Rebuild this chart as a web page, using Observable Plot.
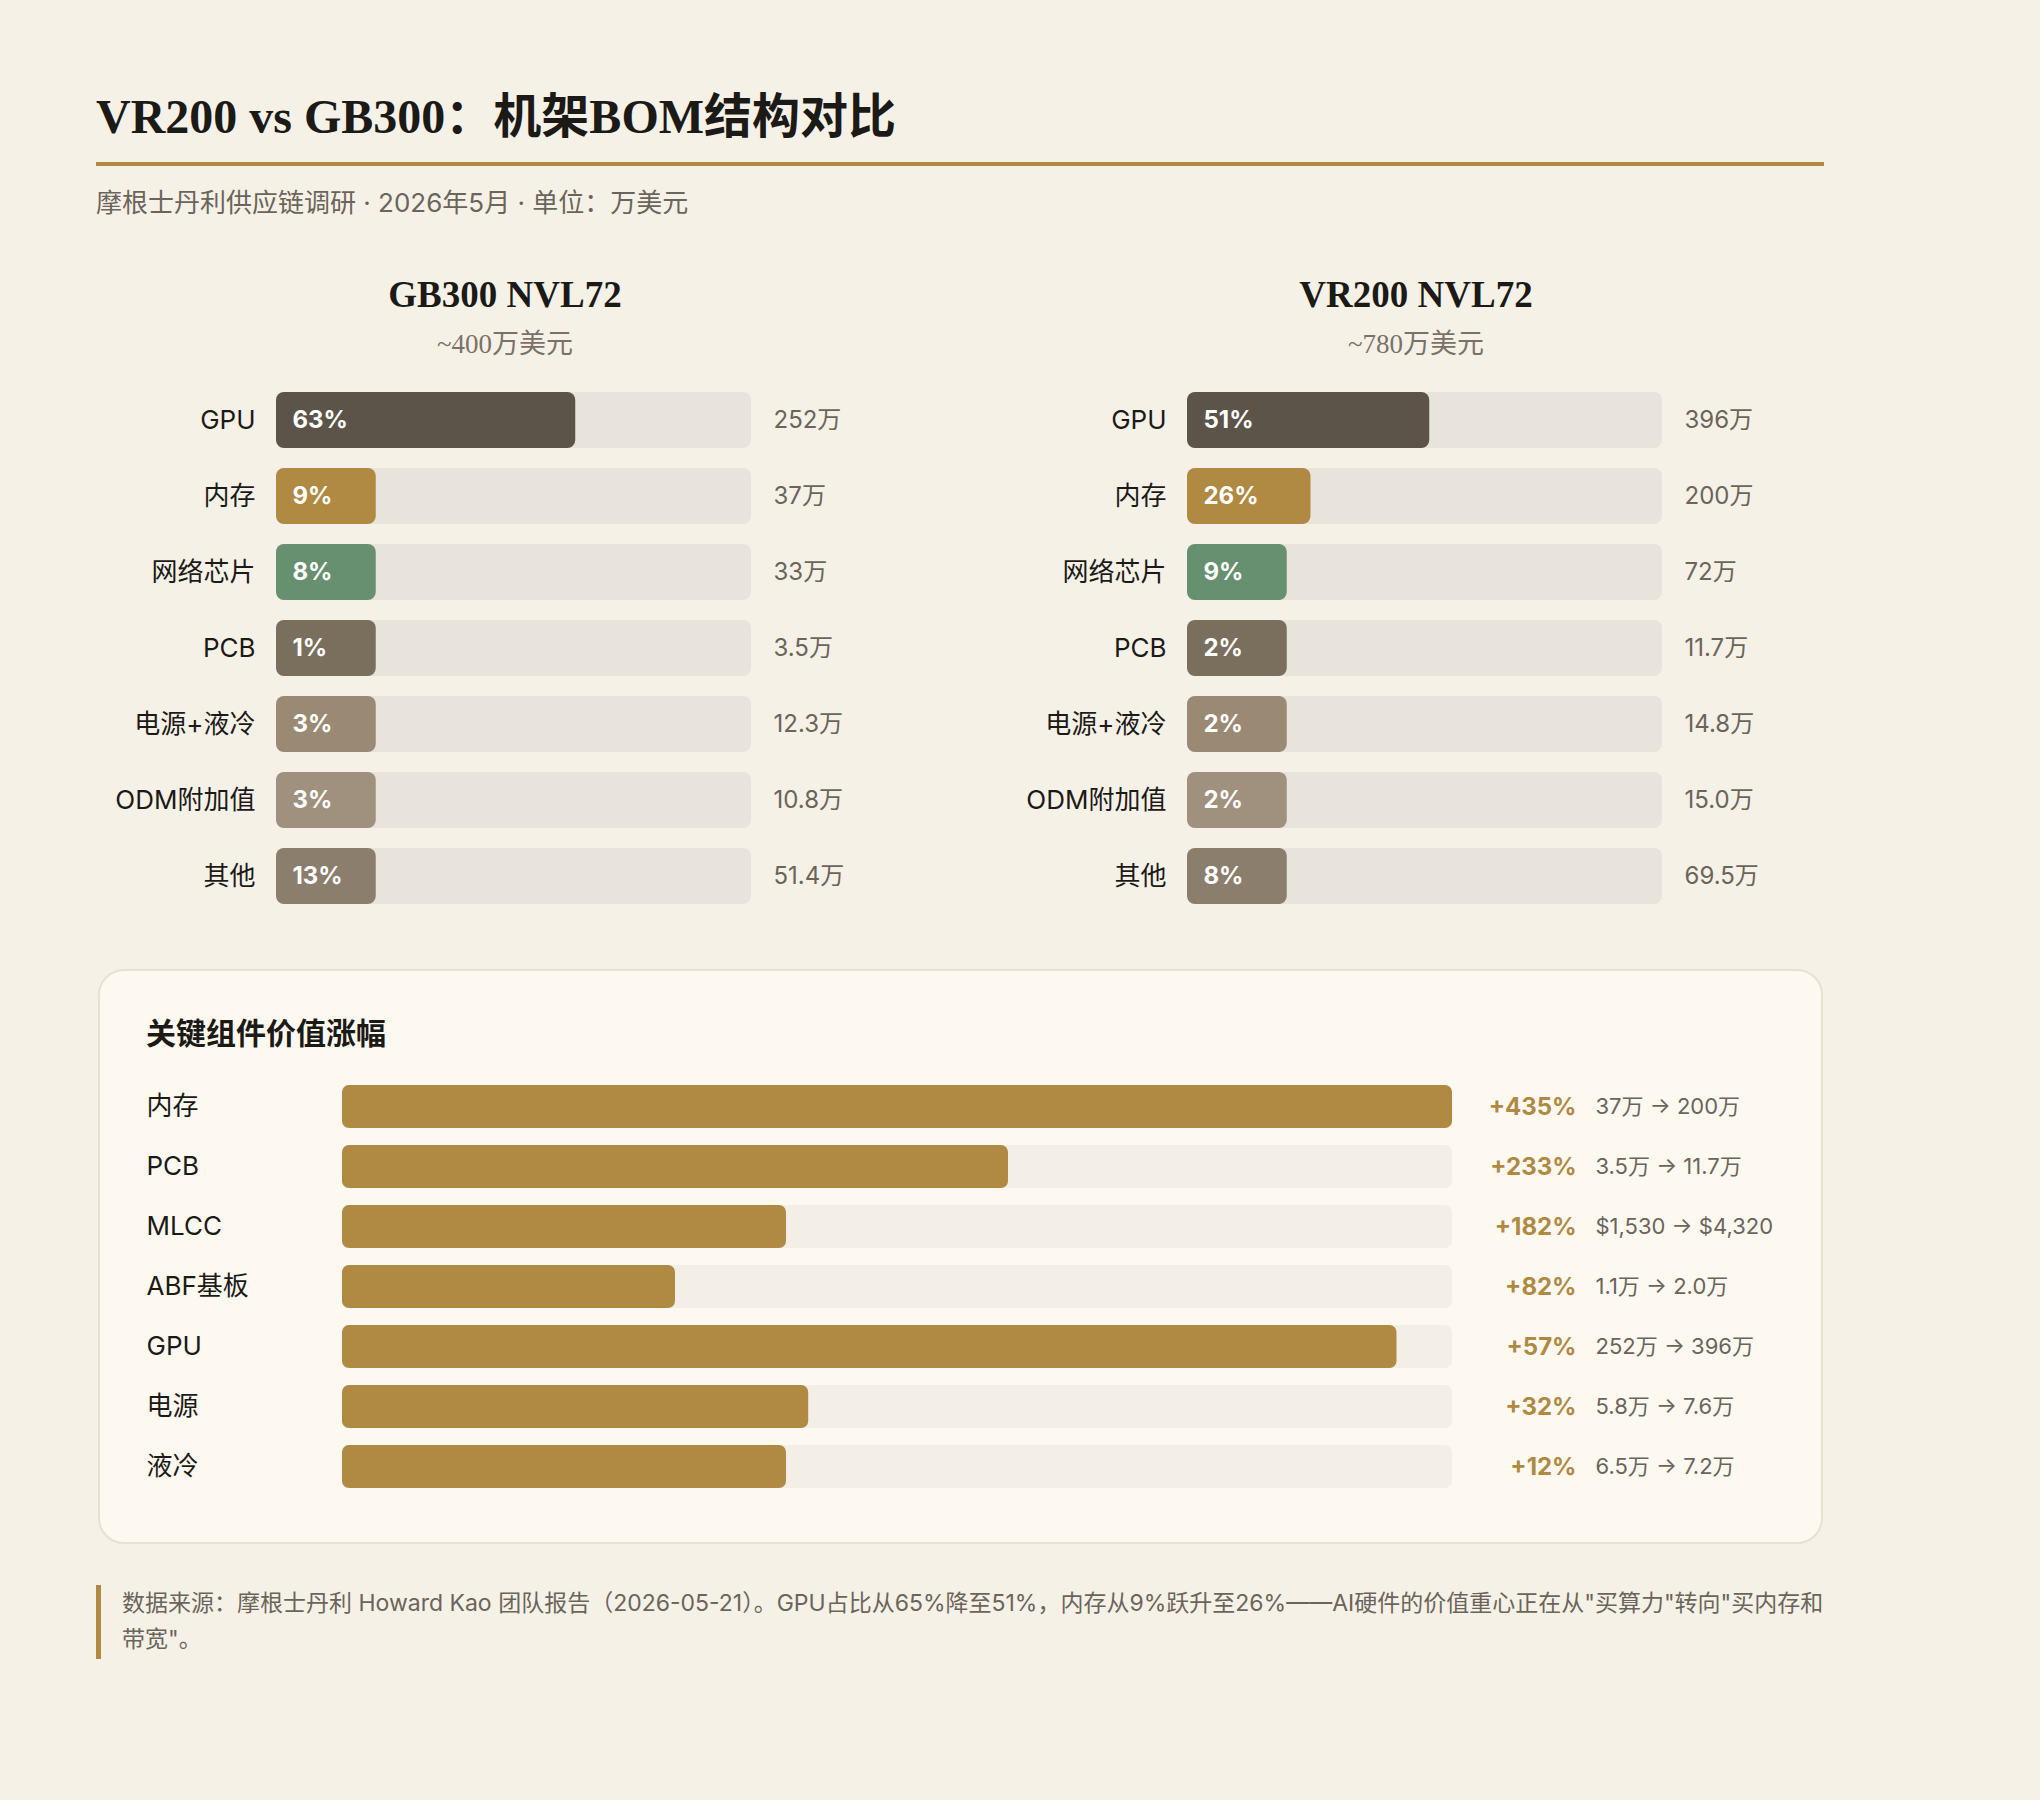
<!DOCTYPE html>
<html>
<head>
<meta charset="utf-8">
<script src="https://cdn.jsdelivr.net/npm/d3@7"></script>
<script src="https://cdn.jsdelivr.net/npm/@observablehq/plot@0.6"></script>
<style>
  html, body { margin: 0; padding: 0; }
  body {
    background: #f6f1e7;
    width: 2040px; height: 1800px; position: relative; overflow: hidden;
    font-family: Inter, "Noto Sans CJK SC", sans-serif;
    color: #1c1a17;
  }
  .abs { position: absolute; white-space: nowrap; }
  #title { left: 96px; top: 77px; height: 60px; line-height: 60px;
    font: 700 48px "Liberation Serif", "Noto Sans CJK SC", serif; color: #1c1a17; }
  #rule { left: 96px; top: 162px; width: 1728px; height: 4px; background: #b08943; }
  #subtitle { left: 96px; top: 185px; height: 36px; line-height: 36px; font-size: 26px; color: #6b645a; }
  .phead { width: 818px; text-align: center; }
  .pname { height: 44px; line-height: 44px; font: 700 37px "Liberation Serif", "Noto Sans CJK SC", serif; color: #1c1a17; }
  .ptotal { height: 36px; line-height: 36px; font: 400 27px "Liberation Serif", "Noto Sans CJK SC", serif; color: #7a7268; }
  #card { left: 98px; top: 969px; width: 1725px; height: 575px; box-sizing: border-box;
    background: #fdf9f1; border: 2px solid #e7e0d3; border-radius: 26px; }
  #cardTitle { left: 146px; top: 1009px; height: 40px; line-height: 40px;
    font: 700 30px "Liberation Serif", "Noto Sans CJK SC", serif; color: #1c1a17; }
  #noteBar { left: 96px; top: 1585px; width: 5px; height: 74px; background: #b08943; }
  #note { left: 122px; top: 1585px; font-size: 23px; line-height: 36px; color: #6b645a; }
  .plotbox { position: absolute; }
  .plotbox svg { overflow: visible; }
</style>
</head>
<body>
<div id="title" class="abs"></div>
<div id="rule" class="abs"></div>
<div id="subtitle" class="abs"></div>
<div id="card" class="abs"></div>
<div id="cardTitle" class="abs"></div>
<div id="noteBar" class="abs"></div>
<div id="note" class="abs"></div>

<script>
// ---------- data ----------
const titleText = "VR200 vs GB300：机架BOM结构对比";
const subtitleText = "摩根士丹利供应链调研 · 2026年5月 · 单位：万美元";

const components = ["GPU", "内存", "网络芯片", "PCB", "电源+液冷", "ODM附加值", "其他"];
const componentColors = ["#5c5448", "#b08943", "#679070", "#7a6e5c", "#9a8a74", "#a0907e", "#8b7e6d"];

const rackNames = ["GB300 NVL72", "VR200 NVL72"];
const rackTotals = ["~400万美元", "~780万美元"];

const gb300Share = [63, 9, 8, 1, 3, 3, 13];
const gb300Value = ["252万", "37万", "33万", "3.5万", "12.3万", "10.8万", "51.4万"];
const vr200Share = [51, 26, 9, 2, 2, 2, 8];
const vr200Value = ["396万", "200万", "72万", "11.7万", "14.8万", "15.0万", "69.5万"];

const growthTitle = "关键组件价值涨幅";
const growthItems = ["内存", "PCB", "MLCC", "ABF基板", "GPU", "电源", "液冷"];
const growthPct = [435, 233, 182, 82, 57, 32, 12];
const growthBar = [100, 60, 40, 30, 95, 42, 40]; // drawn bar length, % of track
const growthFrom = ["37万", "3.5万", "$1,530", "1.1万", "252万", "5.8万", "6.5万"];
const growthTo = ["200万", "11.7万", "$4,320", "2.0万", "396万", "7.6万", "7.2万"];

const noteLine1 = "数据来源：摩根士丹利 Howard Kao 团队报告（2026-05-21）。GPU占比从65%降至51%，内存从9%跃升至26%——AI硬件的价值重心正在从\"买算力\"转向\"买内存和";
const noteLine2 = "带宽\"。";

// ---------- text ----------
const FONT = 'Inter, "Noto Sans CJK SC", sans-serif';
document.getElementById("title").textContent = titleText;
document.getElementById("subtitle").textContent = subtitleText;
document.getElementById("cardTitle").textContent = growthTitle;
const note = document.getElementById("note");
note.appendChild(document.createTextNode(noteLine1));
note.appendChild(document.createElement("br"));
note.appendChild(document.createTextNode(noteLine2));

// ---------- panels ----------
const MIN_SHARE = 21; // minimum drawn fill (% of track) so the label fits
const panelLefts = [96, 1007];
const shares = [gb300Share, vr200Share];
const values = [gb300Value, vr200Value];

function panelPlot(share, value) {
  const data = components.map((c, i) => ({c, share: share[i], value: value[i], color: componentColors[i]}));
  return Plot.plot({
    width: 818, height: 552,
    marginLeft: 180, marginRight: 163, marginTop: 0, marginBottom: 0,
    style: {background: "transparent", fontFamily: FONT, fontSize: "26px", overflow: "visible"},
    x: {domain: [0, 100], axis: null},
    y: {domain: components, padding: 0.263, label: null, axis: null},
    color: {type: "identity"},
    marks: [
      Plot.barX(data, {y: "c", x1: () => 0, x2: () => 100, fill: "#e9e4db", rx: 8}),
      Plot.barX(data, {y: "c", x1: () => 0, x2: d => Math.max(d.share, MIN_SHARE), fill: d => d.color, rx: 8}),
      Plot.text(data, {y: "c", x: () => 0, text: d => d.share + "%", dx: 16, textAnchor: "start",
        fill: "#ffffff", fontWeight: 700, fontSize: 24}),
      Plot.text(data, {y: "c", x: () => 100, text: "value", dx: 22, textAnchor: "start",
        fill: "#6b645a", fontSize: 24}),
      Plot.axisY({tickSize: 0, tickPadding: 21, fontSize: 26, color: "#1c1a17", label: null})
    ]
  });
}

rackNames.forEach((name, k) => {
  const h1 = document.createElement("div");
  h1.className = "abs phead pname";
  h1.style.left = panelLefts[k] + "px"; h1.style.top = "273px";
  h1.textContent = name;
  document.body.appendChild(h1);
  const h2 = document.createElement("div");
  h2.className = "abs phead ptotal";
  h2.style.left = panelLefts[k] + "px"; h2.style.top = "322px";
  h2.textContent = rackTotals[k];
  document.body.appendChild(h2);
  const box = document.createElement("div");
  box.className = "plotbox";
  box.style.left = panelLefts[k] + "px"; box.style.top = "372px";
  box.appendChild(panelPlot(shares[k], values[k]));
  document.body.appendChild(box);
});

// ---------- growth card ----------
const growthData = growthItems.map((c, i) => ({c, pct: growthPct[i], bar: growthBar[i], from: growthFrom[i], to: growthTo[i]}));
const growthPlot = Plot.plot({
  width: 1725, height: 437,
  marginLeft: 244, marginRight: 371, marginTop: 0, marginBottom: 0,
  style: {background: "transparent", fontFamily: FONT, fontSize: "26px", overflow: "visible"},
  x: {domain: [0, 100], axis: null},
  y: {domain: growthItems, padding: 0.283, label: null, axis: null},
  marks: [
    Plot.barX(growthData, {y: "c", x1: () => 0, x2: () => 100, fill: "#f4efe6", rx: 7}),
    Plot.barX(growthData, {y: "c", x1: () => 0, x2: "bar", fill: "#b08943", rx: 7}),
    Plot.text(growthData, {y: "c", x: () => 100, text: d => "+" + d.pct + "%", dx: 124, textAnchor: "end",
      fill: "#b08943", fontWeight: 700, fontSize: 24}),
    Plot.text(growthData, {y: "c", x: () => 100, text: d => d.from + " → " + d.to, dx: 143, textAnchor: "start",
      fill: "#6b645a", fontSize: 22}),
    Plot.axisY({tickSize: 0, tickPadding: 196, textAnchor: "start", fontSize: 26, color: "#1c1a17", label: null})
  ]
});
const gbox = document.createElement("div");
gbox.className = "plotbox";
gbox.style.left = "98px"; gbox.style.top = "1068px";
gbox.appendChild(growthPlot);
document.body.appendChild(gbox);
</script>
</body>
</html>
